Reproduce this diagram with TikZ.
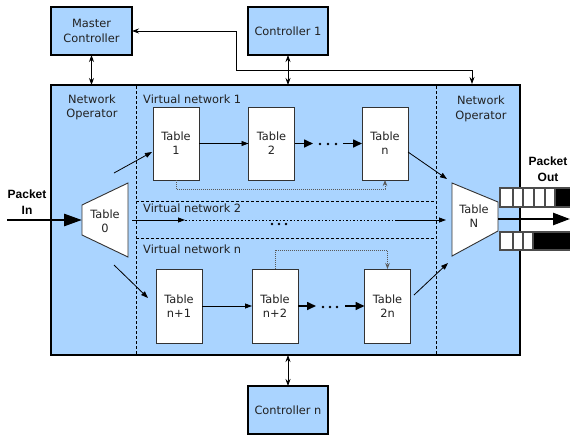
\documentclass[tikz,border=0pt]{standalone}
\usepackage{fontspec}
\setmainfont{DejaVu Sans}
\newfontfamily\pktfont{Liberation Sans}
\usetikzlibrary{arrows.meta,calc}
\definecolor{boxblue}{RGB}{170,212,255}
\definecolor{txt}{RGB}{34,34,34}
\begin{document}
\begin{tikzpicture}[x=1pt,y=-1pt,
  font=\fontsize{11.4}{14.3}\selectfont, text=txt,
  ctrl/.style={draw=black, line width=2.8pt, fill=boxblue, inner sep=0pt, outer sep=0pt, align=center},
  tbl/.style={draw=black!80, line width=0.9pt, fill=white, minimum width=46pt, minimum height=73pt, inner sep=0pt, outer sep=0pt, align=center},
  arr/.style={line width=0.8pt, -{Triangle[length=7pt,width=5pt]}},
  darr/.style={line width=0.8pt, {Stealth[length=7pt,width=5pt]}-{Stealth[length=7pt,width=5pt]}},
  bigarr/.style={line width=1.6pt, -{Triangle[length=9pt,width=8pt]}},
  fb/.style={line width=0.8pt, draw=black!65, dash pattern=on 0.8pt off 1.2pt, -{Stealth[length=6pt,width=4.5pt]}},
  sepline/.style={line width=0.9pt, dash pattern=on 3pt off 2pt},
  lbl/.style={inner sep=0pt, anchor=west},
  qcell/.style={draw=black!70, line width=1.2pt, fill=white},
  qfull/.style={draw=black!70, line width=1.2pt, fill=black},
  pkt/.style={font=\pktfont\bfseries\fontsize{12}{16}\selectfont, align=center, text=black}
]
\useasboundingbox (0,0) rectangle (570,437);

% main box
\node[draw=black, line width=2.8pt, fill=boxblue, minimum width=469pt, minimum height=270pt, inner sep=0pt, outer sep=0pt] (main) at (285.5,220) {};

% separators
\draw[sepline] (136,86) -- (136,354);
\draw[sepline] (436,86) -- (436,354);
\draw[sepline] (136,201) -- (436,201);
\draw[sepline] (136,238) -- (436,238);

% labels
\node[align=center] (noL) at (92,107.5) {Network\\Operator};
\node[align=center] (noR) at (481,109) {Network\\Operator};
\node[lbl] (vn1) at (143,99) {Virtual network 1};
\node[lbl] (vn2) at (143,208) {Virtual network 2};
\node[lbl] (vnn) at (143,249) {Virtual network n};

% controllers
\node[ctrl, minimum width=81pt, minimum height=48pt] (mc) at (91.5,31) {Master\\Controller};
\node[ctrl, minimum width=80pt, minimum height=48pt] (c1) at (288,31) {Controller 1};
\node[ctrl, minimum width=80pt, minimum height=48pt] (cn) at (288,410) {Controller n};

\coordinate (bend) at (236,70);
\coordinate (opr) at (472,84);
\draw[darr] (mc.east) -| (bend) -| (opr);
\draw[darr] (mc.south) -- (mc.south |- main.north);
\draw[darr] (c1.south) -- (c1.south |- main.north);
\draw[darr] (cn.north) -- (cn.north |- main.south);

% table 0 and table N
\filldraw[fill=white, draw=black!80, line width=0.9pt] (82,205) -- (128,183) -- (128,257) -- (82,235) -- cycle;
\node[align=center] (t0) at (105,221) {Table\\0};
\filldraw[fill=white, draw=black!80, line width=0.9pt] (452,183) -- (498,202) -- (498,231) -- (452,256) -- cycle;
\node[align=center] (tN) at (474,216) {Table\\N};

% VN1 tables
\node[tbl] (t1) at (176,143.5) {Table\\1};
\node[tbl] (t2) at (271.5,143.5) {Table\\2};
\node[tbl] (tn) at (385,143.5) {Table\\n};
% VNn tables
\node[tbl, minimum height=74pt] (tn1) at (179,306) {Table\\n+1};
\node[tbl, minimum height=74pt] (tn2) at (275,306) {Table\\n+2};
\node[tbl, minimum height=74pt] (t2n) at (387.5,306) {Table\\2n};

% VN1 chain
\draw[arr] (t1.east) -- (t2.west);
\coordinate (d1a) at (313,143.5);
\coordinate (d1b) at (343,143.5);
\draw[bigarr] (t2.east) -- (d1a);
\draw[bigarr] (d1b) -- (tn.west);
\foreach \x in {320,328,336} \fill (\x,144) circle (1.4pt);
\draw[fb] (t1.south) -- ++(0,9) -| (tn.south);

% VNn chain
\draw[arr] (tn1.east) -- (tn2.west);
\coordinate (dna) at (316,306);
\coordinate (dnb) at (345,306);
\draw[bigarr] (tn2.east) -- (dna);
\draw[bigarr] (dnb) -- (t2n.west);
\foreach \x in {323,330,337} \fill (\x,307) circle (1.4pt);
\draw[fb] (tn2.north) -- ++(0,-19) -| (t2n.north);

% VN2
\coordinate (v2a) at (132,220);
\coordinate (v2b) at (185,220);
\coordinate (v2c) at (397,220);
\coordinate (v2d) at (446,220);
\draw[arr] (v2a) -- (v2b);
\draw[line width=0.8pt, dash pattern=on 1.5pt off 2pt] (v2b) -- (v2c);
\draw[arr] (v2c) -- (v2d);
\foreach \x in {272,279,286} \fill (\x,224) circle (1.4pt);

% diagonals
\coordinate (a1) at (114,173);
\coordinate (a2) at (152,152);
\coordinate (b1) at (114,265);
\coordinate (b2) at (148,298);
\coordinate (c1a) at (408,152);
\coordinate (c1b) at (447,179);
\coordinate (e1) at (414,295);
\coordinate (e2) at (448,263);
\draw[arr] (a1) -- (a2);
\draw[arr] (b1) -- (b2);
\draw[arr] (c1a) -- (c1b);
\draw[arr] (e1) -- (e2);

% packet in
\node[pkt] (pin) at (27,202) {Packet\\In};
\coordinate (pinS) at (7,220);
\coordinate (t0w) at (82,220);
\draw[line width=2.8pt, -{Triangle[length=18pt,width=12pt]}] (pinS) -- (t0w);

% packet out
\node[pkt] (pout) at (548,169) {Packet\\Out};
\foreach \a/\b in {500/513,513/523,523/534,534/545,545/555} \draw[qcell] (\a,188) rectangle (\b,207);
\draw[qfull] (555,188) rectangle (573,207);
\foreach \a/\b in {500/513,513/523,523/533} \draw[qcell] (\a,232) rectangle (\b,250);
\draw[qfull] (533,232) rectangle (573,250);
\coordinate (tNe) at (498,219);
\coordinate (outE) at (570,219);
\draw[line width=2.5pt, -{Triangle[length=17pt,width=12pt]}] (tNe) -- (outE);
\end{tikzpicture}
\end{document}
